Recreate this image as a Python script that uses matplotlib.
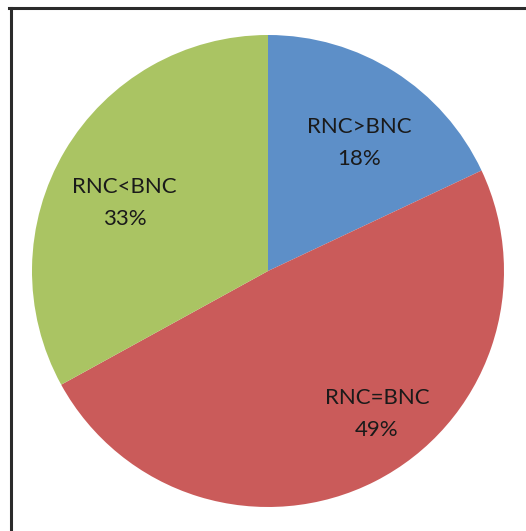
import matplotlib.pyplot as plt
from matplotlib.lines import Line2D

# Share of cases by comparison of RNC and BNC
labels = ['RNC>BNC', 'RNC=BNC', 'RNC<BNC']
shares = [18, 49, 33]
colors = ['#5D8FC8', '#CA5B5A', '#AAC463']

# label spots (x, y in pie units) chosen to sit where the original put them
label_pos = [(0.386, 0.542), (0.462, -0.606), (-0.608, 0.288)]

W, H = 526, 531
fig = plt.figure(figsize=(W / 100, H / 100), dpi=100)
fig.patch.set_facecolor('white')

# pie axes: centre at (268, 271) px from top-left, radius 236 px
cx, cy, r = 268, 271, 236
ax = fig.add_axes([(cx - r) / W, (H - cy - r) / H, 2 * r / W, 2 * r / H])
wedges, _ = ax.pie(shares, colors=colors, startangle=90, counterclock=False,
                   radius=1.0, wedgeprops=dict(linewidth=0))
ax.set_xlim(-1, 1)
ax.set_ylim(-1, 1)
ax.axis('off')

for lab, val, (x, y) in zip(labels, shares, label_pos):
    ax.text(x, y, f"{lab}\n{val}%", ha='center', va='center',
            fontsize=16, family='Lato', color='#1a1a1a', linespacing=1.75)

# frame of the original figure: only left and top edges fall inside the image
fig.add_artist(Line2D([10.5 / W, 10.5 / W], [0, 1 - 7.5 / H],
                      transform=fig.transFigure, color='#2b2b2b', lw=2.2))
fig.add_artist(Line2D([9 / W, 1], [1 - 7.5 / H, 1 - 7.5 / H],
                      transform=fig.transFigure, color='#2b2b2b', lw=2.2))

fig.savefig('out.png', dpi=100)
